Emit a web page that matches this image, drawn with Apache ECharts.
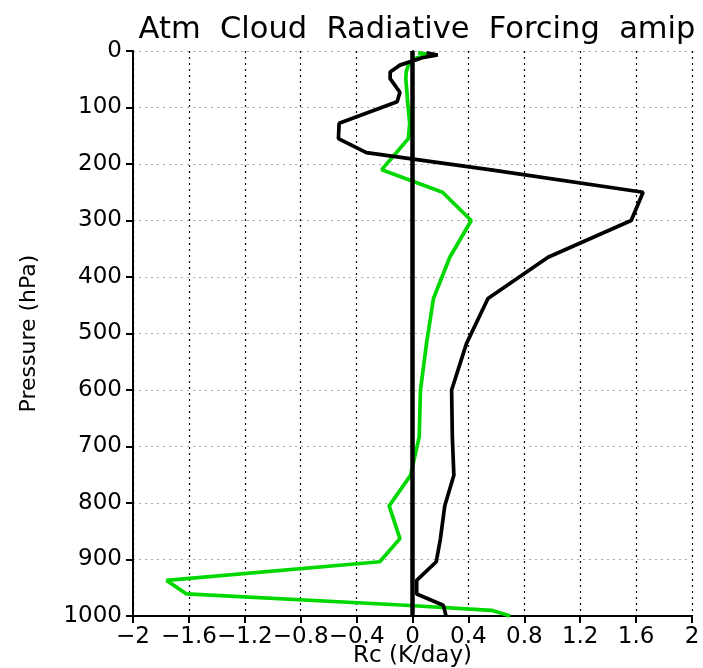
<!DOCTYPE html>
<html>
<head>
<meta charset="utf-8">
<script src="https://cdn.jsdelivr.net/npm/echarts@6/dist/echarts.min.js"></script>
<style>
html,body{margin:0;padding:0;background:#fff;}
#chart{width:703px;height:668px;}
</style>
</head>
<body>
<div id="chart"></div>
<script>
// Pressure levels (hPa)
const levels = [3, 7, 12, 25, 37, 49, 73, 90, 128, 155, 180, 210, 250, 300, 365, 438, 518, 600, 683, 751, 805, 863, 904, 937, 961, 981, 990, 1000];
// Black series (Rc, K/day)
const blackVals = [0.10, 0.18, 0.07, -0.09, -0.16, -0.16, -0.09, -0.11, -0.525, -0.53, -0.33, 0.55, 1.65, 1.565, 0.97, 0.54, 0.386, 0.28, 0.285, 0.296, 0.231, 0.20, 0.17, 0.03, 0.03, 0.22, 0.23, 0.24];
// Green series (Rc, K/day)
const greenVals = [0.04, 0.13, 0.03, -0.03, -0.045, -0.048, -0.04, -0.035, -0.02, -0.03, -0.116, -0.22, 0.215, 0.42, 0.267, 0.15, 0.10, 0.057, 0.048, -0.014, -0.167, -0.09, -0.234, -1.76, -1.617, -0.05, 0.565, 0.70];
const xTicks = [-2, -1.6, -1.2, -0.8, -0.4, 0, 0.4, 0.8, 1.2, 1.6, 2];
const yTicks = [0, 100, 200, 300, 400, 500, 600, 700, 800, 900, 1000];
const titleText = 'Atm  Cloud  Radiative  Forcing  amip';
const xName = 'Rc (K/day)';
const yName = 'Pressure (hPa)';

const font = 'DejaVu Sans';
const toPairs = vals => vals.map((v, i) => [v, levels[i]]);
const fmtX = v => String(Math.round(v * 10) / 10).replace('-', '\u2212');
const fmtY = v => String(Math.round(v));

const chart = echarts.init(document.getElementById('chart'));
chart.setOption({
  animation: false,
  backgroundColor: '#fff',
  title: {
    text: titleText, left: 412, top: 10, textAlign: 'center',
    textStyle: {fontFamily: font, fontSize: 30.5, fontWeight: 'normal', color: '#000'}
  },
  grid: {left: 133, right: 11, top: 51, bottom: 52, outerBoundsMode: 'none', containLabel: false},
  xAxis: [{
    type: 'value', min: xTicks[0], max: xTicks[xTicks.length - 1], interval: 0.4,
    name: xName, nameLocation: 'middle', nameGap: 29, nameMoveOverlap: false,
    nameTextStyle: {fontFamily: font, fontSize: 23, color: '#000'},
    axisLine: {show: true, onZero: false, lineStyle: {color: '#000', width: 2}},
    axisTick: {show: true, inside: false, length: 7, lineStyle: {color: '#000', width: 2}},
    axisLabel: {formatter: fmtX, fontFamily: font, fontSize: 23, color: '#000', margin: 10, hideOverlap: false},
    splitLine: {show: true, lineStyle: {color: '#000', type: [2, 4], width: 1.2}}
  }],
  yAxis: [{
    type: 'value', inverse: true, min: yTicks[0], max: yTicks[yTicks.length - 1], interval: 100,
    name: yName, nameLocation: 'middle', nameGap: 93, nameRotate: 90, nameMoveOverlap: false,
    nameTextStyle: {fontFamily: font, fontSize: 22, color: '#000'},
    axisLine: {show: true, onZero: false, lineStyle: {color: '#000', width: 2}},
    axisTick: {show: true, inside: false, length: 7, lineStyle: {color: '#000', width: 2}},
    axisLabel: {formatter: fmtY, fontFamily: font, fontSize: 23, color: '#000', margin: 11},
    splitLine: {show: true, lineStyle: {color: '#aaa', type: [2, 4], width: 1.2}}
  }, {
    type: 'value', inverse: true, min: 0, max: 1000, position: 'right',
    axisLine: {show: true, lineStyle: {color: '#000', width: 2}},
    axisTick: {show: false}, axisLabel: {show: false}, splitLine: {show: false}
  }],
  series: [{
    type: 'line', data: toPairs(greenVals), symbol: 'none', z: 3,
    lineStyle: {color: '#00d800', width: 3.7}
  }, {
    type: 'line', data: toPairs(blackVals), symbol: 'none', z: 4,
    lineStyle: {color: '#000', width: 3.7},
    markLine: {
      silent: true, symbol: 'none', label: {show: false},
      lineStyle: {color: '#000', width: 4.5, type: 'solid'},
      data: [{xAxis: 0}]
    }
  }]
});
</script>
</body>
</html>
